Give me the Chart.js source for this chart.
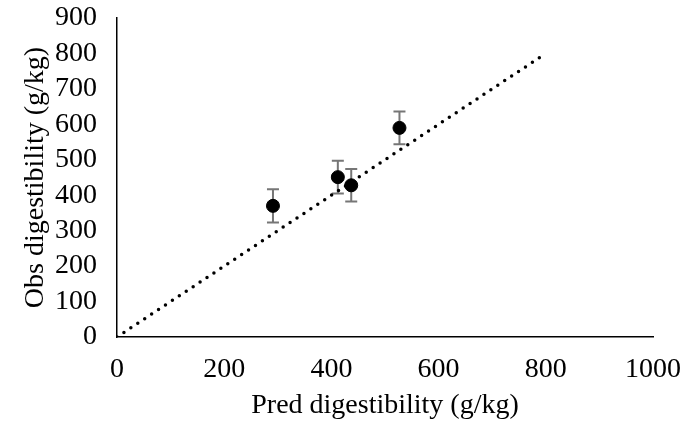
<!DOCTYPE html>
<html>
<head>
<meta charset="utf-8">
<script src="https://cdn.jsdelivr.net/npm/chart.js@4.4.1/dist/chart.umd.min.js"></script>
<style>
  html, body { margin: 0; padding: 0; background: #fff; }
  #wrap { width: 695px; height: 425px; }
</style>
</head>
<body>
<div id="wrap"><canvas id="digestChart" width="695" height="425"></canvas></div>
<script>
// observed vs predicted digestibility, g/kg
const predValues = [291, 412, 437, 527];
const obsValues = [370, 451, 428, 590];
const obsErrors = [47, 46, 46, 46];

// 1:1 reference line
const refLineX = [0, 800];
const refLineY = [0, 800];

const xTicks = [0, 200, 400, 600, 800, 1000];
const yTicks = [0, 100, 200, 300, 400, 500, 600, 700, 800, 900];

const serif = 'Liberation Serif, Times New Roman, serif';

const errorBars = {
    id: 'errorBars',
    beforeDatasetsDraw(chart) {
        const ctx = chart.ctx;
        const xs = chart.scales.x, ys = chart.scales.y;
        ctx.save();
        ctx.strokeStyle = '#767676';
        ctx.lineWidth = 2;
        predValues.forEach((p, i) => {
            const px = xs.getPixelForValue(p);
            const top = ys.getPixelForValue(obsValues[i] + obsErrors[i]);
            const bot = ys.getPixelForValue(obsValues[i] - obsErrors[i]);
            ctx.beginPath();
            ctx.moveTo(px, top); ctx.lineTo(px, bot);
            ctx.moveTo(px - 6, top); ctx.lineTo(px + 6, top);
            ctx.moveTo(px - 6, bot); ctx.lineTo(px + 6, bot);
            ctx.stroke();
        });
        ctx.restore();
    }
};

const ctx = document.getElementById('digestChart').getContext('2d');

new Chart(ctx, {
    type: 'scatter',
    data: {
        datasets: [{
            label: 'Obs',
            data: predValues.map((x, i) => ({ x: x, y: obsValues[i] })),
            backgroundColor: '#000',
            borderColor: '#000',
            pointRadius: 6.5,
            pointHoverRadius: 6.5
        }, {
            label: '1:1',
            type: 'line',
            data: refLineX.map((x, i) => ({ x: x, y: refLineY[i] })),
            borderColor: '#000',
            borderWidth: 3.5,
            borderDash: [0, 8.3],
            borderCapStyle: 'round',
            pointRadius: 0,
            fill: false
        }]
    },
    options: {
        responsive: false,
        animation: false,
        layout: { padding: { top: 18, right: 42, left: 0, bottom: 0 } },
        plugins: {
            legend: { display: false },
            tooltip: { enabled: false }
        },
        scales: {
            x: {
                type: 'linear',
                min: 0,
                max: 1000,
                afterBuildTicks: s => { s.ticks = xTicks.map(v => ({ value: v })); },
                afterFit: s => {
                    s.height = 88;
                    s.paddingLeft = 0;
                    s.paddingRight = 0;
                },
                grid: { display: false, drawTicks: false },
                border: { display: true, color: '#000', width: 1.5 },
                ticks: {
                    padding: 16,
                    color: '#000',
                    autoSkip: false,
                    maxRotation: 0,
                    font: { family: serif, size: 28 },
                    callback: v => String(v)
                },
                title: {
                    display: true,
                    text: 'Pred digestibility (g/kg)',
                    color: '#000',
                    font: { family: serif, size: 28 },
                    padding: { top: 4, bottom: 3 }
                }
            },
            y: {
                type: 'linear',
                min: 0,
                max: 900,
                afterBuildTicks: s => { s.ticks = yTicks.map(v => ({ value: v })); },
                afterFit: s => {
                    s.width = 117;
                    s.paddingTop = 0;
                    s.paddingBottom = 0;
                },
                grid: { display: false, drawTicks: false },
                border: { display: true, color: '#000', width: 1.5 },
                ticks: {
                    padding: 20,
                    color: '#000',
                    autoSkip: false,
                    font: { family: serif, size: 28 },
                    callback: v => String(v)
                },
                title: {
                    display: true,
                    text: 'Obs digestibility (g/kg)',
                    color: '#000',
                    font: { family: serif, size: 28 },
                    padding: { top: 19, bottom: 0 }
                }
            }
        }
    },
    plugins: [errorBars]
});
</script>
</body>
</html>
